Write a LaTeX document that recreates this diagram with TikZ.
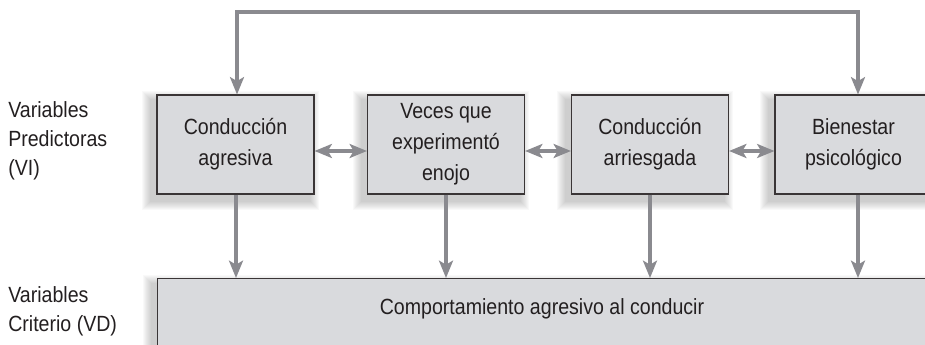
\documentclass[tikz,border=0pt]{standalone}
\usepackage{fontspec}
\setmainfont{Liberation Sans}[FakeStretch=0.89]
\usetikzlibrary{arrows.meta,backgrounds}
\definecolor{boxfill}{HTML}{D9DADD}
\definecolor{boxline}{HTML}{3A3536}
\definecolor{arrgray}{HTML}{8A8A8F}
\definecolor{txt}{HTML}{231F20}
\tikzset{
  vbox/.style={draw=boxline, line width=0.8pt, fill=boxfill, text=txt,
    minimum width=157*0.75pt, minimum height=99*0.75pt, align=center,
    inner sep=0pt, font=\fontsize{16.5}{23.25}\selectfont},
  sidelabel/.style={anchor=north west, align=left, text=txt, inner sep=0pt,
    font=\fontsize{16.5}{21.75}\selectfont},
  conn/.style={draw=arrgray, line width=2.3pt,
    -{Stealth[length=13pt,width=10.5pt,inset=3pt]}},
  dconn/.style={draw=arrgray, line width=2.3pt,
    {Stealth[length=13pt,width=10.5pt,inset=3pt]}-{Stealth[length=13pt,width=10.5pt,inset=3pt]}}
}
\begin{document}
\begin{tikzpicture}[x=0.75pt,y=-0.75pt]
\useasboundingbox (0,0) rectangle (925,345);
% boxes
\node[vbox] (b1) at (235.5,144.5) {Conducción\\agresiva};
\node[vbox] (b2) at (446,144.5) {Veces que\\experimentó\\enojo};
\node[vbox] (b3) at (650,144.5) {Conducción\\arriesgada};
\node[vbox] (b4) at (853.5,144.5) {Bienestar\\psicológico};
\node[vbox, minimum width=770*0.75pt, minimum height=100*0.75pt, anchor=north west] (bot) at (157,278) {};
\node[text=txt, inner sep=0pt, font=\fontsize{16.5}{23.25}\selectfont, anchor=base] (bottxt) at (542,315) {Comportamiento agresivo al conducir};
% side labels
\node[sidelabel] (lab1) at (8,101) {Variables\\Predictoras\\(VI)};
\node[sidelabel] (lab2) at (8,286) {Variables\\Criterio (VD)};
% shadows
\begin{scope}[on background layer]
\foreach \n in {b1,b2,b3,b4,bot}{
  \foreach \i in {1,...,9}{
    \fill[black,opacity=0.022] ([shift={(-5-\i,6-\i)}]\n.north west) rectangle ([shift={(-5+\i,6+\i)}]\n.south east);
  }
}
\end{scope}
% top feedback connector
\coordinate (t1) at (237,12);
\coordinate (t2) at (858,12);
\draw[dconn] (b1.north -| t1) -- (t1) -- (t2) -- (b4.north -| t2);
% horizontal double arrows
\coordinate (h) at (0,151);
\draw[dconn] (b1.east |- h) -- (b2.west |- h);
\draw[dconn] (b2.east |- h) -- (b3.west |- h);
\draw[dconn] (b3.east |- h) -- (b4.west |- h);
% down arrows
\coordinate (d1) at (236,0);
\coordinate (d2) at (446,0);
\coordinate (d3) at (650,0);
\coordinate (d4) at (858,0);
\draw[conn] (b1.south -| d1) -- (bot.north -| d1);
\draw[conn] (b2.south -| d2) -- (bot.north -| d2);
\draw[conn] (b3.south -| d3) -- (bot.north -| d3);
\draw[conn] (b4.south -| d4) -- (bot.north -| d4);
\end{tikzpicture}
\end{document}
